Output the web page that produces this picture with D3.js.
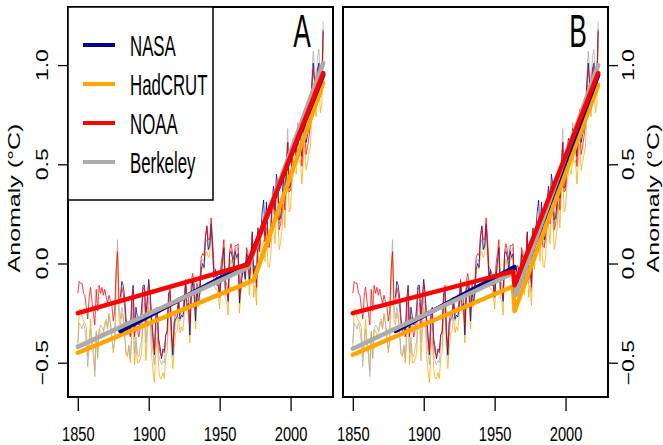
<!DOCTYPE html>
<html>
<head>
<meta charset="utf-8">
<script src="https://cdn.jsdelivr.net/npm/d3@7"></script>
<style>
body { margin: 0; background: #fff; }
text { font-family: "Liberation Sans", Arial, sans-serif; fill: #000; }
</style>
</head>
<body>
<svg id="chart" width="663" height="445"></svg>
<script>
// annual anomalies (deg C)
var firstYear = 1850;
var nasaFirstYear = 1880;

var nasa = [
  -0.17, -0.09, -0.11, -0.17, -0.28, -0.33, -0.31, -0.36, -0.18, -0.11,
  -0.35, -0.22, -0.27, -0.31, -0.30, -0.22, -0.11, -0.11, -0.27, -0.17,
  -0.08, -0.15, -0.27, -0.36, -0.46, -0.26, -0.22, -0.38, -0.42, -0.48,
  -0.43, -0.44, -0.36, -0.34, -0.15, -0.14, -0.36, -0.46, -0.30, -0.28,
  -0.27, -0.19, -0.28, -0.26, -0.27, -0.22, -0.10, -0.22, -0.20, -0.36,
  -0.16, -0.09, -0.16, -0.29, -0.13, -0.20, -0.15, -0.03, -0.00, -0.02,
  0.13, 0.19, 0.07, 0.09, 0.20, 0.09, -0.07, -0.03, -0.11, -0.11,
  -0.17, -0.07, 0.01, 0.08, -0.13, -0.14, -0.19, 0.05, 0.06, 0.03,
  -0.03, 0.06, 0.03, 0.05, -0.20, -0.11, -0.06, -0.02, -0.08, 0.05,
  0.03, -0.08, 0.01, 0.16, -0.07, -0.01, -0.10, 0.18, 0.07, 0.16,
  0.26, 0.32, 0.14, 0.31, 0.16, 0.12, 0.18, 0.32, 0.39, 0.27,
  0.45, 0.40, 0.22, 0.23, 0.31, 0.45, 0.33, 0.46, 0.61, 0.38,
  0.39, 0.54, 0.63, 0.62, 0.53, 0.68, 0.64, 0.66, 0.54, 0.65,
  0.72, 0.61, 0.65, 0.68, 0.75, 0.90, 1.01, 0.92, 0.85, 0.98,
  1.01, 0.85, 0.89, 1.17
];

var hadcrut = [
  -0.42, -0.23, -0.23, -0.27, -0.29, -0.30, -0.32, -0.47, -0.39, -0.28,
  -0.39, -0.43, -0.54, -0.34, -0.47, -0.33, -0.34, -0.36, -0.35, -0.32,
  -0.28, -0.33, -0.25, -0.30, -0.36, -0.45, -0.39, -0.09, 0.05, -0.28,
  -0.31, -0.25, -0.28, -0.36, -0.46, -0.47, -0.42, -0.50, -0.38, -0.25,
  -0.51, -0.40, -0.50, -0.50, -0.48, -0.45, -0.28, -0.26, -0.49, -0.36,
  -0.22, -0.28, -0.46, -0.54, -0.60, -0.45, -0.37, -0.53, -0.58, -0.58,
  -0.55, -0.58, -0.47, -0.45, -0.28, -0.21, -0.43, -0.53, -0.43, -0.35,
  -0.34, -0.27, -0.35, -0.32, -0.34, -0.26, -0.16, -0.25, -0.26, -0.40,
  -0.18, -0.14, -0.17, -0.33, -0.18, -0.22, -0.17, -0.03, -0.02, -0.03,
  0.05, 0.06, 0.03, 0.05, 0.15, 0.03, -0.10, -0.13, -0.13, -0.15,
  -0.23, -0.08, -0.03, 0.03, -0.18, -0.19, -0.26, -0.02, 0.02, -0.02,
  -0.05, 0.03, 0.02, 0.03, -0.25, -0.15, -0.09, -0.11, -0.12, 0.01,
  -0.03, -0.16, -0.04, 0.08, -0.17, -0.11, -0.21, 0.08, -0.03, 0.05,
  0.09, 0.12, 0.01, 0.18, -0.01, -0.02, 0.04, 0.18, 0.19, 0.10,
  0.27, 0.25, 0.07, 0.11, 0.17, 0.30, 0.18, 0.35, 0.52, 0.26,
  0.28, 0.40, 0.46, 0.47, 0.45, 0.54, 0.51, 0.52, 0.40, 0.52,
  0.60, 0.47, 0.51, 0.55, 0.59, 0.76, 0.90, 0.82, 0.74, 0.87,
  0.92, 0.76, 0.80, 1.10
];

var noaa = [
  -0.15, -0.09, -0.10, -0.10, -0.15, -0.16, -0.22, -0.28, -0.17, -0.12,
  -0.19, -0.25, -0.31, -0.13, -0.24, -0.11, -0.15, -0.12, -0.16, -0.13,
  -0.17, -0.20, -0.16, -0.19, -0.21, -0.29, -0.24, -0.03, 0.06, -0.18,
  -0.20, -0.12, -0.15, -0.22, -0.31, -0.35, -0.30, -0.37, -0.23, -0.13,
  -0.37, -0.27, -0.33, -0.37, -0.33, -0.28, -0.12, -0.13, -0.31, -0.20,
  -0.10, -0.16, -0.29, -0.39, -0.45, -0.30, -0.23, -0.40, -0.45, -0.47,
  -0.44, -0.45, -0.36, -0.35, -0.17, -0.11, -0.33, -0.42, -0.29, -0.25,
  -0.25, -0.17, -0.26, -0.23, -0.24, -0.18, -0.08, -0.17, -0.16, -0.31,
  -0.09, -0.05, -0.09, -0.24, -0.10, -0.15, -0.10, 0.03, 0.05, 0.04,
  0.14, 0.18, 0.12, 0.12, 0.23, 0.12, -0.02, -0.03, -0.05, -0.07,
  -0.14, 0.00, 0.05, 0.12, -0.09, -0.10, -0.17, 0.06, 0.10, 0.06,
  0.02, 0.09, 0.09, 0.10, -0.16, -0.07, -0.01, -0.02, -0.05, 0.08,
  0.05, -0.07, 0.03, 0.15, -0.08, -0.03, -0.12, 0.16, 0.06, 0.13,
  0.18, 0.21, 0.11, 0.27, 0.09, 0.08, 0.14, 0.27, 0.29, 0.20,
  0.36, 0.34, 0.17, 0.20, 0.26, 0.38, 0.27, 0.44, 0.61, 0.36,
  0.37, 0.50, 0.56, 0.57, 0.53, 0.63, 0.59, 0.59, 0.49, 0.60,
  0.68, 0.55, 0.59, 0.64, 0.70, 0.87, 0.98, 0.91, 0.83, 0.95,
  0.99, 0.84, 0.87, 1.18
];

var berkeley = [
  -0.40, -0.30, -0.31, -0.33, -0.30, -0.33, -0.40, -0.52, -0.42, -0.33,
  -0.43, -0.46, -0.57, -0.35, -0.48, -0.34, -0.31, -0.32, -0.34, -0.30,
  -0.29, -0.33, -0.26, -0.30, -0.37, -0.43, -0.40, -0.06, 0.12, -0.21,
  -0.28, -0.22, -0.26, -0.35, -0.45, -0.46, -0.41, -0.48, -0.32, -0.20,
  -0.45, -0.37, -0.46, -0.47, -0.42, -0.39, -0.22, -0.20, -0.40, -0.30,
  -0.17, -0.22, -0.37, -0.45, -0.51, -0.36, -0.30, -0.46, -0.49, -0.51,
  -0.49, -0.50, -0.41, -0.40, -0.21, -0.15, -0.37, -0.47, -0.36, -0.29,
  -0.28, -0.20, -0.29, -0.27, -0.27, -0.19, -0.10, -0.19, -0.19, -0.34,
  -0.12, -0.08, -0.12, -0.27, -0.12, -0.17, -0.12, 0.01, 0.02, 0.01,
  0.10, 0.12, 0.07, 0.09, 0.18, 0.07, -0.05, -0.05, -0.07, -0.09,
  -0.17, -0.03, 0.02, 0.08, -0.12, -0.13, -0.20, 0.04, 0.07, 0.04,
  0.00, 0.07, 0.06, 0.08, -0.19, -0.10, -0.04, -0.04, -0.07, 0.06,
  0.02, -0.10, 0.01, 0.14, -0.10, -0.04, -0.14, 0.16, 0.06, 0.14,
  0.20, 0.24, 0.11, 0.29, 0.10, 0.09, 0.16, 0.30, 0.32, 0.23,
  0.41, 0.38, 0.20, 0.24, 0.31, 0.45, 0.33, 0.50, 0.68, 0.41,
  0.43, 0.56, 0.63, 0.63, 0.59, 0.71, 0.67, 0.69, 0.56, 0.69,
  0.78, 0.64, 0.67, 0.72, 0.78, 0.94, 1.07, 0.98, 0.91, 1.04,
  1.08, 0.92, 0.96, 1.22
];

// fitted trend knots [year, anomaly]
// panel A: continuous broken-line fits
var nasaTrendA = [[1880, -0.34], [1970, 0.0], [2023, 0.95]];
var hadcrutTrendA = [[1850, -0.45], [1974, -0.085], [2023, 0.91]];
var noaaTrendA = [[1850, -0.25], [1970, -0.005], [2023, 0.96]];
var berkeleyTrendA = [[1850, -0.42], [1970, -0.02], [2023, 1.01]];
// panel B: fits with a jump at the break
var nasaTrendB = [[1880, -0.34], [1964, -0.018], [1965, -0.145], [2023, 0.95]];
var hadcrutTrendB = [[1850, -0.46], [1963, -0.115], [1964, -0.24], [2023, 0.90]];
var noaaTrendB = [[1850, -0.25], [1963, -0.04], [1964, -0.11], [2023, 0.96]];
var berkeleyTrendB = [[1850, -0.43], [1964, -0.045], [1965, -0.16], [2023, 1.0]];

var seriesNames = ["NASA", "HadCRUT", "NOAA", "Berkeley"];
var seriesColors = ["#00008b", "#ffa500", "#ff0000", "#ababab"];
var yearTicks = [1850, 1900, 1950, 2000];
var anomalyTicks = [-0.5, 0, 0.5, 1];
var panelLabels = ["A", "B"];

var toPoints = function (values, start) {
    return values.map(function (v, i) {
        return { year: start + i, value: v };
    });
};

var drawChart = function () {
    var svg = d3.select("#chart"),
        TOP = 7,
        BOTTOM = 397,
        PANEL_W = 265,
        panelLefts = [68, 343];

    var series = [
        { name: "NASA", pts: toPoints(nasa, nasaFirstYear), trends: [nasaTrendA, nasaTrendB] },
        { name: "HadCRUT", pts: toPoints(hadcrut, firstYear), trends: [hadcrutTrendA, hadcrutTrendB] },
        { name: "NOAA", pts: toPoints(noaa, firstYear), trends: [noaaTrendA, noaaTrendB] },
        { name: "Berkeley", pts: toPoints(berkeley, firstYear), trends: [berkeleyTrendA, berkeleyTrendB] }
    ];
    var color = d3.scaleOrdinal().domain(seriesNames).range(seriesColors);

    // R style 4% padding on both axes
    var allPts = d3.merge(series.map(function (s) { return s.pts; }));
    var xExt = d3.extent(allPts, function (d) { return d.year; }),
        yExt = d3.extent(allPts, function (d) { return d.value; }),
        xPad = 0.04 * (xExt[1] - xExt[0]),
        yPad = 0.04 * (yExt[1] - yExt[0]);
    var yScale = d3.scaleLinear()
        .domain([yExt[0] - yPad, yExt[1] + yPad])
        .range([BOTTOM, TOP]);

    var thinOrder = ["HadCRUT", "Berkeley", "NASA", "NOAA"],
        thickOrder = ["HadCRUT", "NASA", "Berkeley", "NOAA"];
    var fmt = d3.format(".1f");

    panelLefts.forEach(function (left, p) {
        var xScale = d3.scaleLinear()
            .domain([xExt[0] - xPad, xExt[1] + xPad])
            .range([left, left + PANEL_W]);
        var g = svg.append("g");

        var thinLine = d3.line()
            .x(function (d) { return xScale(d.year); })
            .y(function (d) { return yScale(d.value); });
        thinOrder.forEach(function (n) {
            var s = series.find(function (d) { return d.name === n; });
            g.append("path")
                .attr("d", thinLine(s.pts))
                .attr("fill", "none")
                .attr("stroke", color(n))
                .attr("stroke-width", 1)
                .attr("stroke-opacity", 0.75);
        });

        var trendLine = d3.line()
            .x(function (d) { return xScale(d[0]); })
            .y(function (d) { return yScale(d[1]); });
        thickOrder.forEach(function (n) {
            var s = series.find(function (d) { return d.name === n; });
            g.append("path")
                .attr("d", trendLine(s.trends[p]))
                .attr("fill", "none")
                .attr("stroke", color(n))
                .attr("stroke-width", 4.5)
                .attr("stroke-linecap", "round")
                .attr("stroke-linejoin", "round");
        });

        // frame
        g.append("rect")
            .attr("x", left).attr("y", TOP)
            .attr("width", PANEL_W).attr("height", BOTTOM - TOP)
            .attr("fill", "none")
            .attr("stroke", "#000")
            .attr("stroke-width", 2);

        // x axis: ticks only, labels squeezed like the source
        var xAxis = d3.axisBottom(xScale)
            .tickValues(yearTicks)
            .tickFormat(d3.format("d"))
            .tickSize(14)
            .tickPadding(0);
        var xg = g.append("g")
            .attr("transform", "translate(0," + BOTTOM + ")")
            .call(xAxis);
        xg.select(".domain").remove();
        xg.selectAll(".tick line").attr("stroke", "#000").attr("stroke-width", 1.3);
        xg.selectAll(".tick text")
            .attr("y", 0).attr("dy", null)
            .attr("font-size", 21)
            .attr("fill", "#000")
            .attr("transform", "translate(0,44) scale(0.7,1)");

        // y axis: left on A, right on B, rotated labels
        var onLeft = p === 0;
        var yAxis = (onLeft ? d3.axisLeft(yScale) : d3.axisRight(yScale))
            .tickValues(anomalyTicks)
            .tickFormat("")
            .tickSize(10);
        var yg = g.append("g")
            .attr("transform", "translate(" + (onLeft ? left : left + PANEL_W) + ",0)")
            .call(yAxis);
        yg.select(".domain").remove();
        yg.selectAll(".tick line").attr("stroke", "#000").attr("stroke-width", 1.3);
        var labelX = onLeft ? 48 : 634;
        anomalyTicks.forEach(function (t) {
            g.append("text")
                .attr("text-anchor", "middle")
                .attr("font-size", 23)
                .attr("transform", "translate(" + labelX + "," + yScale(t) + ") scale(0.72,1) rotate(-90)")
                .text(fmt(t));
        });

        // axis title
        var titleX = onLeft ? 20 : 659;
        g.append("text")
            .attr("text-anchor", "middle")
            .attr("font-size", 25)
            .attr("transform", "translate(" + titleX + "," + 198 + ") scale(0.65,1) rotate(-90)")
            .text("Anomaly (°C)");

        // panel letter
        g.append("text")
            .attr("text-anchor", "middle")
            .attr("font-size", 47)
            .attr("transform", "translate(" + (left + PANEL_W - (onLeft ? 31 : 30)) + ",47) scale(0.56,1)")
            .text(panelLabels[p]);

        // legend in panel A
        if (onLeft) {
            var lg = g.append("g");
            lg.append("rect")
                .attr("x", left).attr("y", TOP)
                .attr("width", 145).attr("height", 193)
                .attr("fill", "#fff")
                .attr("stroke", "#000")
                .attr("stroke-width", 1.5);
            var ly = d3.scalePoint().domain(seriesNames).range([45, 162]);
            seriesNames.forEach(function (n) {
                lg.append("line")
                    .attr("x1", 83).attr("x2", 115)
                    .attr("y1", ly(n)).attr("y2", ly(n))
                    .attr("stroke", color(n))
                    .attr("stroke-width", 4);
                lg.append("text")
                    .attr("font-size", 29)
                    .attr("transform", "translate(130," + (ly(n) + 11) + ") scale(0.58,1)")
                    .text(n);
            });
        }
    });
};

drawChart();
</script>
</body>
</html>
